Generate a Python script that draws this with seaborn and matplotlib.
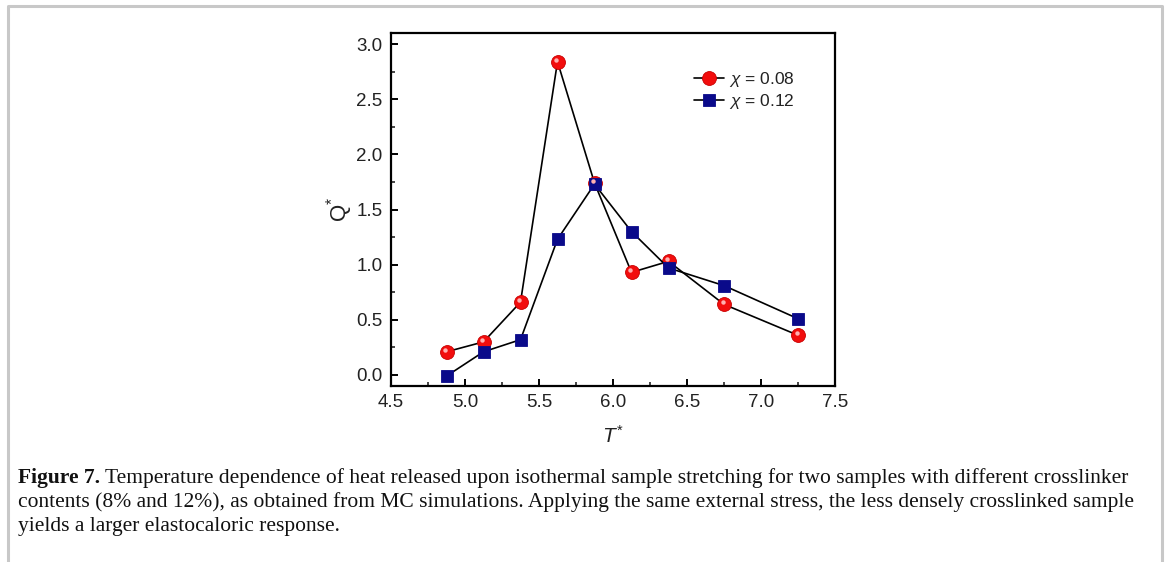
import matplotlib
matplotlib.use("Agg")
import matplotlib.pyplot as plt
import matplotlib.transforms as mtransforms
import seaborn as sns

# Reduced temperature and heat released for the two crosslinker contents
T_star = [4.875, 5.125, 5.375, 5.625, 5.875, 6.125, 6.375, 6.75, 7.25]
Q_chi008 = [0.21, 0.30, 0.66, 2.84, 1.74, 0.93, 1.03, 0.64, 0.36]
Q_chi012 = [-0.01, 0.21, 0.32, 1.23, 1.73, 1.30, 0.97, 0.81, 0.51]
series_labels = [r"$\chi$ = 0.08", r"$\chi$ = 0.12"]

x_ticks = [4.5, 5.0, 5.5, 6.0, 6.5, 7.0, 7.5]
y_ticks = [0.0, 0.5, 1.0, 1.5, 2.0, 2.5, 3.0]

caption_head = "Figure 7."
caption_lines = [
    " Temperature dependence of heat released upon isothermal sample stretching for two samples with different crosslinker",
    "contents (8% and 12%), as obtained from MC simulations. Applying the same external stress, the less densely crosslinked sample",
    "yields a larger elastocaloric response.",
]

sns.set_theme(style="white")
plt.rcParams["font.family"] = ["Liberation Sans", "DejaVu Sans"]
plt.rcParams["mathtext.fontset"] = "custom"
plt.rcParams["mathtext.it"] = "Liberation Sans:italic"
plt.rcParams["mathtext.rm"] = "Liberation Sans"

W, H = 1168, 562
fig = plt.figure(figsize=(W / 100, H / 100), dpi=100)
fig.patch.set_facecolor("white")

# page frame (top, left, right edges)
frame = plt.Line2D([7.5 / W, 7.5 / W, 1162 / W, 1162 / W],
                   [0, 1 - 6 / H, 1 - 6 / H, 0],
                   transform=fig.transFigure, color="#c8c8c8", lw=2.2)
fig.add_artist(frame)

ax = fig.add_axes([391 / W, 1 - 386 / H, (835 - 391) / W, (386 - 33) / H])

sns.lineplot(x=T_star, y=Q_chi008, ax=ax, color="black", lw=1.2,
             marker="o", markersize=10, markerfacecolor="#f20d0d",
             markeredgecolor="#c80000", markeredgewidth=0.6,
             label=series_labels[0])
sns.lineplot(x=T_star, y=Q_chi012, ax=ax, color="black", lw=1.2,
             marker="s", markersize=9, markerfacecolor="#0a0a8a",
             markeredgecolor="#0a0a8a", markeredgewidth=0.6,
             label=series_labels[1])

# specular highlight on the spheres
shift = mtransforms.ScaledTranslation(-1.5 / 100, 2.0 / 100, fig.dpi_scale_trans)
ax.plot(T_star, Q_chi008, ls="none", marker="o", markersize=3.2,
        markerfacecolor="#ffb0b0", markeredgecolor="none",
        transform=ax.transData + shift)

ax.set_xlim(4.5, 7.5)
ax.set_ylim(-0.1, 3.1)
ax.set_xticks(x_ticks)
ax.set_yticks(y_ticks)
ax.set_xticks([v + 0.25 for v in x_ticks[:-1]], minor=True)
ax.set_yticks([v + 0.25 for v in y_ticks[:-1]], minor=True)
ax.set_xticklabels([f"{v:.1f}" for v in x_ticks])
ax.set_yticklabels([f"{v:.1f}" for v in y_ticks])
ax.tick_params(axis="both", which="major", direction="in", length=5, width=1.4,
               labelsize=13.5, colors="black", pad=6, top=False, right=False,
               bottom=True, left=True)
ax.tick_params(axis="both", which="minor", direction="in", length=3, width=1.2,
               top=False, right=False, bottom=True, left=True)
for t in ax.get_xticklabels() + ax.get_yticklabels():
    t.set_color("#222222")
for sp in ax.spines.values():
    sp.set_visible(True)
    sp.set_color("black")
    sp.set_linewidth(1.6)
ax.grid(False)

ax.set_xlabel(r"$T^{*}$", fontsize=15, labelpad=10, color="#222222")
ax.set_ylabel(r"$\mathrm{Q}^{*}$", fontsize=16, labelpad=1, color="#222222")

leg = ax.legend(loc="upper right", bbox_to_anchor=(0.925, 0.915), frameon=False,
                fontsize=12.5, handlelength=1.7, handletextpad=0.3,
                labelspacing=0.2, borderaxespad=0)
for txt in leg.get_texts():
    txt.set_color("#222222")

# caption with bold figure number
fs = 15.5
renderer = fig.canvas.get_renderer()
x0 = 18 / W
y_lines = [1 - 478 / H, 1 - 502 / H, 1 - 526 / H]
head = fig.text(x0, y_lines[0], caption_head, fontsize=fs, fontweight="bold",
                family="Liberation Serif", va="center", ha="left", color="#111111")
bb = head.get_window_extent(renderer=renderer)
fig.text(bb.x1 / W, y_lines[0], caption_lines[0], fontsize=fs,
         family="Liberation Serif", va="center", ha="left", color="#111111")
for y, line in zip(y_lines[1:], caption_lines[1:]):
    fig.text(x0, y, line, fontsize=fs, family="Liberation Serif",
             va="center", ha="left", color="#111111")

fig.savefig("out.png", dpi=100, facecolor="white")
